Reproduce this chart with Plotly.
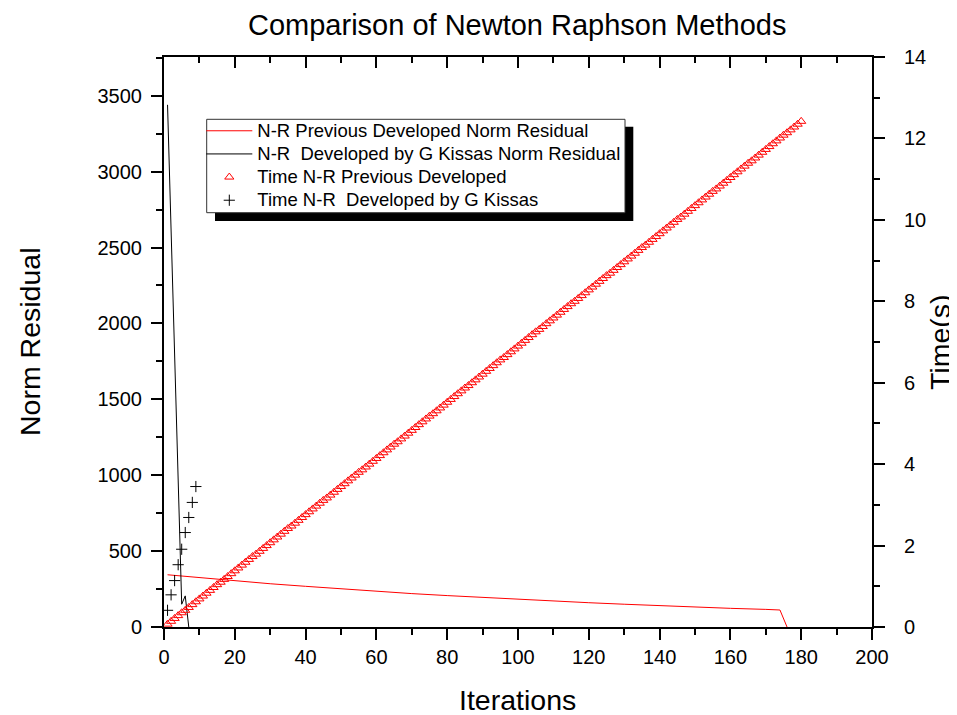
import plotly.graph_objects as go

# ---------------- data ----------------
# N-R previous developed: norm residual vs iteration
prev_iter = [1, 10, 20, 30, 40, 50, 60, 70, 80, 90, 100, 110, 120, 130, 140, 150, 160, 170, 174, 176]
prev_resid = [344, 325, 304, 285, 268, 251, 235, 220, 207, 194, 182, 170, 160, 150, 140, 132, 123, 116, 112, 0]

# N-R developed by G Kissas: norm residual vs iteration
kissas_iter = [1, 2, 3, 4, 5, 6, 7]
kissas_resid = [3440, 2620, 1800, 980, 150, 205, 0]

# Time, N-R previous developed (iterations 1..180)
prev_time_iter = list(range(1, 181))
prev_time = [
    0.07, 0.14, 0.21, 0.28, 0.35, 0.41, 0.48, 0.55, 0.62, 0.69,
    0.76, 0.83, 0.90, 0.97, 1.04, 1.10, 1.17, 1.24, 1.31, 1.38,
    1.45, 1.52, 1.59, 1.66, 1.73, 1.79, 1.86, 1.93, 2.00, 2.07,
    2.14, 2.21, 2.28, 2.35, 2.42, 2.48, 2.55, 2.62, 2.69, 2.76,
    2.83, 2.90, 2.97, 3.04, 3.11, 3.17, 3.24, 3.31, 3.38, 3.45,
    3.52, 3.59, 3.66, 3.73, 3.80, 3.86, 3.93, 4.00, 4.07, 4.14,
    4.21, 4.28, 4.35, 4.42, 4.49, 4.55, 4.62, 4.69, 4.76, 4.83,
    4.90, 4.97, 5.04, 5.11, 5.18, 5.24, 5.31, 5.38, 5.45, 5.52,
    5.59, 5.66, 5.73, 5.80, 5.87, 5.93, 6.00, 6.07, 6.14, 6.21,
    6.28, 6.35, 6.42, 6.49, 6.56, 6.62, 6.69, 6.76, 6.83, 6.90,
    6.97, 7.04, 7.11, 7.18, 7.25, 7.31, 7.38, 7.45, 7.52, 7.59,
    7.66, 7.73, 7.80, 7.87, 7.94, 8.00, 8.07, 8.14, 8.21, 8.28,
    8.35, 8.42, 8.49, 8.56, 8.63, 8.69, 8.76, 8.83, 8.90, 8.97,
    9.04, 9.11, 9.18, 9.25, 9.32, 9.38, 9.45, 9.52, 9.59, 9.66,
    9.73, 9.80, 9.87, 9.94, 10.01, 10.07, 10.14, 10.21, 10.28, 10.35,
    10.42, 10.49, 10.56, 10.63, 10.70, 10.76, 10.83, 10.90, 10.97, 11.04,
    11.11, 11.18, 11.25, 11.32, 11.39, 11.45, 11.52, 11.59, 11.66, 11.73,
    11.80, 11.87, 11.94, 12.01, 12.08, 12.14, 12.21, 12.28, 12.35, 12.42,
]

# Time, N-R developed by G Kissas
kissas_time_iter = [1, 2, 3, 4, 5, 6, 7, 8, 9]
kissas_time = [0.41, 0.79, 1.14, 1.53, 1.91, 2.32, 2.69, 3.06, 3.45]

names = [
    "N-R Previous Developed Norm Residual",
    "N-R\u00a0 Developed by G Kissas Norm Residual",
    "Time N-R Previous Developed",
    "Time N-R\u00a0 Developed by G Kissas",
]

title_text = "Comparison of Newton Raphson Methods"
x_title = "Iterations"
y_title = "Norm Residual"
y2_title = "Time(s)"

# ---------------- figure ----------------
FONT = "Liberation Sans, Arial, sans-serif"
BODY = 8                      # default page margin around the figure
W, H = 957 - BODY, 715 - BODY
PL, PR, PT, PB = 164, 872, 57, 627   # plot area in page pixels
L, T = PL - BODY, PT - BODY
R, B = W - (PR - BODY), H - (PB - BODY)
pw, ph = PR - PL, PB - PT


def px_x(p):
    return (p - PL) / pw


def px_y(p):
    return (PB - p) / ph


def legend_label(s):
    return '<span style="font-size:18.5px">' + s + '</span>'


fig = go.Figure()
fig.add_trace(go.Scatter(x=prev_iter, y=prev_resid, mode="lines", name=legend_label(names[0]),
                         line=dict(color="#ff0000", width=1)))
fig.add_trace(go.Scatter(x=kissas_iter, y=kissas_resid, mode="lines", name=legend_label(names[1]),
                         line=dict(color="#000000", width=1)))
fig.add_trace(go.Scatter(x=prev_time_iter, y=prev_time, mode="markers", name=legend_label(names[2]),
                         yaxis="y2",
                         marker=dict(symbol="triangle-up-open", size=8, color="#ff0000",
                                     line=dict(width=1, color="#ff0000"))))
fig.add_trace(go.Scatter(x=kissas_time_iter, y=kissas_time, mode="markers", name=legend_label(names[3]),
                         yaxis="y2",
                         marker=dict(symbol="cross-thin-open", size=8, color="#000000",
                                     line=dict(width=1, color="#000000"))))

# invisible helper trace for the top axis
fig.add_trace(go.Scatter(x=[0, 200], y=[0, 0], xaxis="x2", mode="markers",
                         marker=dict(opacity=0), showlegend=False, hoverinfo="skip"))

axis_common = dict(showgrid=False, zeroline=False, showline=True, linecolor="black",
                   linewidth=2, tickcolor="black", tickwidth=2, ticklen=11,
                   tickfont=dict(family=FONT, size=20, color="black"))

fig.update_layout(
    width=W, height=H,
    margin=dict(l=L, r=R, t=T, b=B, pad=0),
    paper_bgcolor="white", plot_bgcolor="white",
    font=dict(family=FONT, color="black"),
    showlegend=True,
    xaxis=dict(range=[0, 200], dtick=20, tick0=0, ticks="outside",
               minor=dict(ticks="outside", dtick=10, ticklen=6, tickwidth=2, tickcolor="black"),
               **axis_common),
    xaxis2=dict(range=[0, 200], dtick=20, tick0=0, ticks="inside", overlaying="x", side="top",
                anchor="y", showticklabels=False,
                minor=dict(ticks="inside", dtick=10, ticklen=6, tickwidth=2, tickcolor="black"),
                **axis_common),
    yaxis=dict(range=[0, 3755], dtick=500, tick0=0, ticks="outside", ticklabelstandoff=5,
               minor=dict(ticks="outside", dtick=250, ticklen=6, tickwidth=2, tickcolor="black"),
               **axis_common),
    yaxis2=dict(range=[0, 14], dtick=2, tick0=0, ticks="outside", overlaying="y", side="right",
                ticklabelstandoff=15,
                minor=dict(ticks="outside", dtick=1, ticklen=6, tickwidth=2, tickcolor="black"),
                **axis_common),
    legend=dict(x=px_x(201.3), y=px_y(114.2),
                xanchor="left", yanchor="top",
                bgcolor="rgba(0,0,0,0)", borderwidth=0,
                font=dict(family=FONT, size=15.5, color="black"),
                itemwidth=46, tracegroupgap=0),
)

# legend shadow and frame
fig.add_shape(type="rect", xref="paper", yref="paper",
              x0=px_x(215), x1=px_x(633.3), y0=px_y(221), y1=px_y(126.7),
              fillcolor="black", line=dict(width=0), layer="above")
fig.add_shape(type="rect", xref="paper", yref="paper",
              x0=px_x(206.7), x1=px_x(625), y0=px_y(212.7), y1=px_y(119.3),
              fillcolor="white", line=dict(width=1, color="#333333"), layer="above")

# titles as annotations
common_ann = dict(xref="paper", yref="paper", showarrow=False,
                  xanchor="center", yanchor="middle")
fig.add_annotation(text=title_text, x=px_x(517), y=px_y(25),
                   font=dict(family=FONT, size=29, color="black"), **common_ann)
fig.add_annotation(text=x_title, x=px_x(517), y=px_y(700),
                   font=dict(family=FONT, size=28.5, color="black"), **common_ann)
fig.add_annotation(text=y_title, x=px_x(30), y=px_y(342), textangle=-90,
                   font=dict(family=FONT, size=28.5, color="black"), **common_ann)
fig.add_annotation(text=y2_title, x=px_x(940), y=px_y(342), textangle=-90,
                   font=dict(family=FONT, size=28.5, color="black"), **common_ann)

fig.write_html("out.html")
